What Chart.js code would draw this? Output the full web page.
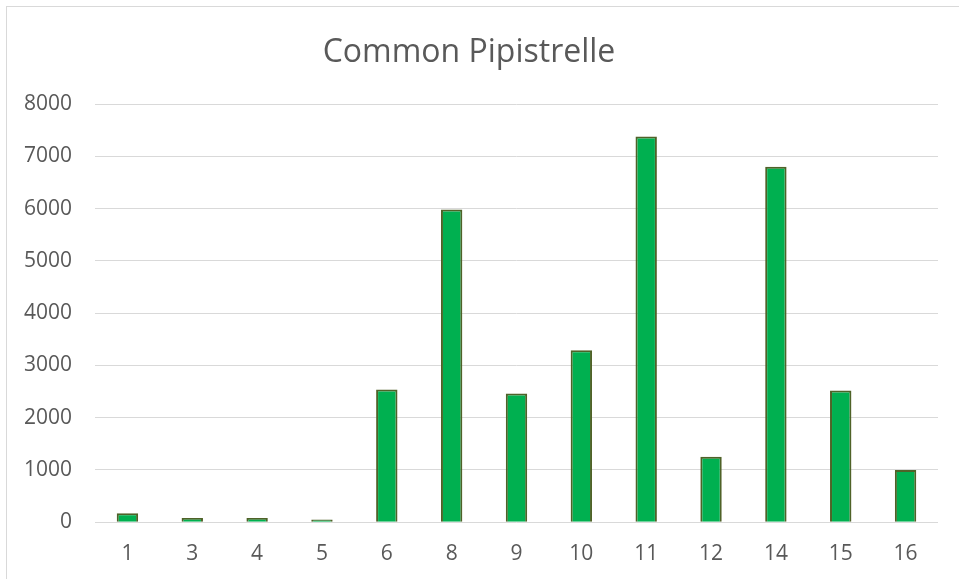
<!DOCTYPE html>
<html>
<head>
<meta charset="utf-8">
<script src="https://cdn.jsdelivr.net/npm/chart.js@4.4.0/dist/chart.umd.min.js"></script>
<style>
  html, body { margin: 0; padding: 0; background: #ffffff; }
  #wrap { position: relative; width: 959px; height: 579px; }
  canvas { display: block; }
</style>
</head>
<body>
<div id="wrap"><canvas id="c" width="959" height="579"></canvas></div>
<script>
const chartTitle = "Common Pipistrelle";
const categories = ["1", "3", "4", "5", "6", "8", "9", "10", "11", "12", "14", "15", "16"];
const counts = [170, 80, 80, 50, 2540, 5980, 2460, 3290, 7380, 1250, 6800, 2520, 1000];
const yTicks = [0, 1000, 2000, 3000, 4000, 5000, 6000, 7000, 8000];

const borderPlugin = {
  id: 'outerBorder',
  beforeDraw(chart) {
    const ctx = chart.ctx;
    ctx.save();
    ctx.fillStyle = '#ffffff';
    ctx.fillRect(0, 0, chart.width, chart.height);
    ctx.strokeStyle = '#D9D9D9';
    ctx.lineWidth = 1;
    ctx.strokeRect(6.5, 6.5, chart.width + 10, chart.height + 10);
    ctx.restore();
  }
};

new Chart(document.getElementById('c'), {
  type: 'bar',
  data: {
    labels: categories,
    datasets: [{
      label: chartTitle,
      data: counts,
      backgroundColor: '#00B050',
      borderColor: '#4F6228',
      borderWidth: 2,
      categoryPercentage: 1.0,
      barPercentage: 0.33
    }]
  },
  options: {
    responsive: false,
    animation: false,
    layout: { padding: { left: 0, right: 21, top: 0, bottom: -6.4 } },
    plugins: {
      legend: { display: false },
      tooltip: { enabled: false },
      title: {
        display: true,
        text: chartTitle,
        color: '#595959',
        font: { family: 'Open Sans', size: 32, weight: 'normal' },
        padding: { top: 34, bottom: 31.6 }
      }
    },
    scales: {
      x: {
        grid: { display: false, drawTicks: false },
        border: { display: false },
        ticks: {
          color: '#595959',
          font: { family: 'Open Sans', size: 21 },
          padding: 19,
          maxRotation: 0
        }
      },
      y: {
        min: 0,
        max: 8000,
        afterBuildTicks(scale) { scale.ticks = yTicks.map(v => ({ value: v })); },
        afterFit(scale) { scale.width = 95; },
        grid: { color: '#D9D9D9', lineWidth: 1, drawTicks: false },
        border: { display: false },
        ticks: {
          color: '#595959',
          font: { family: 'Open Sans', size: 21 },
          padding: 23,
          callback: (v) => String(v)
        }
      }
    }
  },
  plugins: [borderPlugin]
});
</script>
</body>
</html>
